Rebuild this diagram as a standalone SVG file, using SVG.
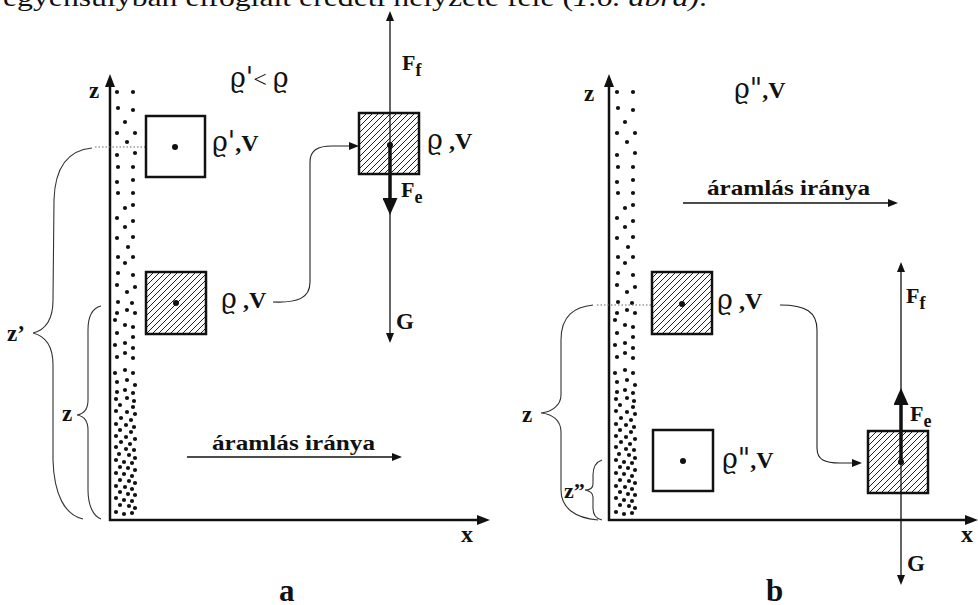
<svg xmlns="http://www.w3.org/2000/svg" width="978" height="605" viewBox="0 0 978 605">
<defs>
<style>
.ax{stroke:#111;stroke-width:2.5;fill:none}
.thin{stroke:#111;stroke-width:1.3;fill:none}
.thick{stroke:#111;stroke-width:3.5;fill:none}
.conn{stroke:#222;stroke-width:1.1;fill:none}
.brace{stroke:#333;stroke-width:1.1;fill:none}
.dotted{stroke:#666;stroke-width:1;stroke-dasharray:1.5 2;fill:none}
.box{stroke:#111;stroke-width:2.5;fill:#fff}
.hbox{stroke:#111;stroke-width:2.5;fill:url(#hatch)}
.cd{fill:#111}
.t{font-family:"Liberation Serif","DejaVu Serif",serif;fill:#111}
.b{font-weight:bold}
.rho{font-family:"DejaVu Serif",serif;font-size:27px;font-weight:normal}
</style>
<pattern id="hatch" patternUnits="userSpaceOnUse" width="6" height="6">
<rect width="6" height="6" fill="#fff"/>
<path d="M0,6 L6,0 M-1,1 L1,-1 M5,7 L7,5" stroke="#222" stroke-width="1"/>
</pattern>
<marker id="arr" markerUnits="userSpaceOnUse" markerWidth="10" markerHeight="8" refX="1" refY="4" orient="auto"><path d="M0,0 L10,4 L0,8 z" fill="#111"/></marker>
<marker id="axarr" markerUnits="userSpaceOnUse" markerWidth="13" markerHeight="10" refX="1" refY="5" orient="auto"><path d="M0,0 L13,5 L0,10 z" fill="#111"/></marker>
<marker id="bigarr" markerUnits="userSpaceOnUse" markerWidth="17" markerHeight="15" refX="1" refY="7.5" orient="auto"><path d="M0,0 L17,7.5 L0,15 z" fill="#111"/></marker>
<g id="dots" fill="#111">
<circle cx="117" cy="92" r="2.1"/><circle cx="133" cy="92" r="2.1"/><circle cx="118" cy="108" r="2.1"/><circle cx="133" cy="110" r="2.1"/><circle cx="125" cy="122" r="2.1"/><circle cx="117" cy="133" r="2.1"/><circle cx="135" cy="133" r="2.1"/><circle cx="127" cy="142" r="2.1"/><circle cx="117" cy="155" r="2.1"/><circle cx="135" cy="153" r="2.1"/><circle cx="118" cy="167" r="2.1"/><circle cx="133" cy="167" r="2.1"/><circle cx="117" cy="182" r="2.1"/><circle cx="133" cy="180" r="2.1"/><circle cx="118" cy="193" r="2.1"/><circle cx="133" cy="193" r="2.1"/>
<circle cx="125" cy="208" r="2.1"/><circle cx="133" cy="205" r="2.1"/><circle cx="117" cy="218" r="2.1"/><circle cx="133" cy="221" r="2.1"/><circle cx="125" cy="227" r="2.1"/><circle cx="117" cy="238" r="2.1"/><circle cx="133" cy="237" r="2.1"/><circle cx="128" cy="247" r="2.1"/><circle cx="118" cy="257" r="2.1"/><circle cx="133" cy="257" r="2.1"/><circle cx="125" cy="263" r="2.1"/><circle cx="118" cy="273" r="2.1"/><circle cx="133" cy="275" r="2.1"/><circle cx="117" cy="285" r="2.1"/><circle cx="135" cy="287" r="2.1"/><circle cx="127" cy="292" r="2.1"/><circle cx="118" cy="302" r="2.1"/><circle cx="132" cy="303" r="2.1"/><circle cx="127" cy="310" r="2.1"/><circle cx="117" cy="313" r="2.1"/><circle cx="135" cy="313" r="2.1"/><circle cx="115" cy="320" r="2.1"/><circle cx="125" cy="325" r="2.1"/><circle cx="133" cy="327" r="2.1"/><circle cx="117" cy="333" r="2.1"/><circle cx="133" cy="337" r="2.1"/><circle cx="125" cy="343" r="2.1"/><circle cx="115" cy="345" r="2.1"/><circle cx="133" cy="348" r="2.1"/><circle cx="125" cy="353" r="2.1"/><circle cx="117" cy="357" r="2.1"/><circle cx="133" cy="358" r="2.1"/><circle cx="125" cy="370" r="2.1"/><circle cx="115" cy="373" r="2.1"/><circle cx="133" cy="373" r="2.1"/><circle cx="127" cy="380" r="2.1"/><circle cx="117" cy="382" r="2.1"/><circle cx="135" cy="385" r="2.1"/><circle cx="125" cy="390" r="2.1"/><circle cx="117" cy="392" r="2.1"/><circle cx="133" cy="393" r="2.1"/>
<circle cx="116" cy="399" r="2.1"/><circle cx="127" cy="398" r="2.1"/><circle cx="134" cy="401" r="2.1"/>
<circle cx="120" cy="405" r="2.1"/><circle cx="133" cy="407" r="2.1"/>
<circle cx="116" cy="411" r="2.1"/><circle cx="127" cy="412" r="2.1"/><circle cx="135" cy="414" r="2.1"/>
<circle cx="121" cy="418" r="2.1"/><circle cx="131" cy="420" r="2.1"/>
<circle cx="116" cy="424" r="2.1"/><circle cx="126" cy="425" r="2.1"/><circle cx="134" cy="427" r="2.1"/>
<circle cx="120" cy="430" r="2.1"/><circle cx="131" cy="432" r="2.1"/>
<circle cx="116" cy="436" r="2.1"/><circle cx="126" cy="437" r="2.1"/><circle cx="135" cy="439" r="2.1"/>
<circle cx="121" cy="442" r="2.1"/><circle cx="130" cy="444" r="2.1"/>
<circle cx="116" cy="447" r="2.1"/><circle cx="126" cy="449" r="2.1"/><circle cx="134" cy="450" r="2.1"/>
<circle cx="119" cy="454" r="2.1"/><circle cx="129" cy="455" r="2.1"/><circle cx="135" cy="458" r="2.1"/>
<circle cx="116" cy="460" r="2.1"/><circle cx="124" cy="462" r="2.1"/><circle cx="132" cy="463" r="2.1"/>
<circle cx="120" cy="467" r="2.1"/><circle cx="128" cy="468" r="2.1"/><circle cx="135" cy="470" r="2.1"/>
<circle cx="116" cy="473" r="2.1"/><circle cx="124" cy="474" r="2.1"/><circle cx="132" cy="476" r="2.1"/>
<circle cx="120" cy="480" r="2.1"/><circle cx="129" cy="481" r="2.1"/><circle cx="135" cy="483" r="2.1"/>
<circle cx="116" cy="486" r="2.1"/><circle cx="125" cy="487" r="2.1"/><circle cx="132" cy="489" r="2.1"/>
<circle cx="120" cy="492" r="2.1"/><circle cx="128" cy="494" r="2.1"/><circle cx="135" cy="495" r="2.1"/>
<circle cx="116" cy="498" r="2.1"/><circle cx="124" cy="500" r="2.1"/><circle cx="132" cy="501" r="2.1"/>
<circle cx="120" cy="505" r="2.1"/><circle cx="129" cy="506" r="2.1"/><circle cx="135" cy="508" r="2.1"/>
<circle cx="116" cy="512" r="2.1"/><circle cx="124" cy="514" r="2.1"/><circle cx="132" cy="513" r="2.1"/>
</g>
</defs>
<rect width="978" height="605" fill="#fff"/>

<text class="t" x="3" y="5.5" font-size="26" textLength="704" lengthAdjust="spacingAndGlyphs">egyensúlyban elfoglalt eredeti helyzete felé (<tspan font-style="italic">1.6. ábra)</tspan>.</text>

<!-- panel a -->
<g id="panel-a-wall"><use href="#dots"/></g>
<g id="panel-a-axes">
<line class="ax" x1="110" y1="521" x2="110" y2="86" marker-end="url(#axarr)"/>
<line class="ax" x1="109" y1="520" x2="478" y2="520" marker-end="url(#axarr)"/>
<text class="t b" x="89" y="98" font-size="23">z</text>
<text class="t b" x="461" y="542" font-size="24">x</text>
</g>
<g id="panel-a-braces">
<line class="dotted" x1="95" y1="147" x2="146" y2="147"/>
<path class="brace" d="M92,148 C70,150 55,165 54,200 L53,300 C53,320 45,330 33,333 C45,336 53,345 53,365 L53,460 C54,495 65,515 83,519"/>
<path class="brace" d="M101,306 C93,308 88,315 88,330 L88,400 C88,410 83,414 77,415 C83,416 88,420 88,430 L88,490 C88,505 93,516 101,519"/>
<text class="t b" x="7" y="341" font-size="23">z’</text>
<text class="t b" x="62" y="421" font-size="23">z</text>
</g>
<g id="node-a1">
<rect class="box" x="146" y="116" width="59" height="61"/>
<circle class="cd" cx="175" cy="147" r="3"/>
<text class="t" x="212" y="151" font-size="24"><tspan class="rho">ϱ'</tspan><tspan class="b">,V</tspan></text>
</g>
<g id="node-a2">
<rect class="hbox" x="146" y="272" width="60" height="62"/>
<circle class="cd" cx="176" cy="303" r="3"/>
<text class="t" x="221" y="308" font-size="24"><tspan class="rho">ϱ</tspan> <tspan class="b">,V</tspan></text>
</g>
<g id="node-a3">
<rect class="hbox" x="359" y="113" width="60" height="61"/>
<text class="t" x="427" y="149" font-size="24"><tspan class="rho">ϱ</tspan> <tspan class="b">,V</tspan></text>
</g>
<g id="forces-a">
<line class="thin" x1="390" y1="145" x2="390" y2="20" marker-end="url(#arr)"/>
<line class="thin" x1="390" y1="145" x2="390" y2="334" marker-end="url(#arr)"/>
<line class="thick" x1="390" y1="145" x2="390" y2="199" marker-end="url(#bigarr)"/>
<circle class="cd" cx="390" cy="145" r="3"/>
<text class="t b" x="402" y="70" font-size="22">F<tspan font-size="18" dy="6">f</tspan></text>
<text class="t b" x="401" y="197" font-size="22">F<tspan font-size="18" dy="6">e</tspan></text>
<text class="t b" x="396" y="329" font-size="23">G</text>
</g>
<text class="t" x="230" y="87" font-size="24"><tspan class="rho">ϱ'</tspan>&lt; <tspan class="rho">ϱ</tspan></text>
<g id="flow-a">
<line class="thin" x1="187" y1="457" x2="393" y2="457" marker-end="url(#arr)"/>
<text class="t b" x="212" y="450" font-size="22" textLength="163" lengthAdjust="spacingAndGlyphs">áramlás iránya</text>
</g>
<text class="t b" x="279" y="601" font-size="31">a</text>

<!-- panel b -->
<g id="panel-b-wall"><use href="#dots" transform="translate(500,0)"/></g>
<g id="panel-b-axes">
<line class="ax" x1="609" y1="521" x2="609" y2="86" marker-end="url(#axarr)"/>
<line class="ax" x1="608" y1="520" x2="966" y2="520" marker-end="url(#axarr)"/>
<text class="t b" x="584" y="101" font-size="23">z</text>
<text class="t b" x="961" y="542" font-size="24">x</text>
</g>
<g id="panel-b-braces">
<line class="dotted" x1="597" y1="305" x2="652" y2="305"/>
<path class="brace" d="M593,305 C575,307 561,315 561,340 L561,395 C561,405 552,412 541,413 C552,414 561,420 561,432 L561,490 C561,508 575,518 598,520"/>
<path class="brace" d="M602,460 C596,462 593,466 593,475 L593,484 C593,488 590,490 585,490 C590,491 593,493 593,497 L593,508 C593,515 597,519 602,520"/>
<text class="t b" x="522" y="422" font-size="23">z</text>
<text class="t b" x="564" y="498" font-size="22">z”</text>
</g>
<text class="t" x="734" y="98" font-size="24"><tspan class="rho">ϱ"</tspan><tspan class="b">,V</tspan></text>
<g id="flow-b">
<line class="thin" x1="683" y1="203" x2="889" y2="203" marker-end="url(#arr)"/>
<text class="t b" x="707" y="195" font-size="22" textLength="163" lengthAdjust="spacingAndGlyphs">áramlás iránya</text>
</g>
<g id="node-b1">
<rect class="hbox" x="652" y="272" width="60" height="62"/>
<circle class="cd" cx="682" cy="304" r="3"/>
<text class="t" x="717" y="309" font-size="24"><tspan class="rho">ϱ</tspan> <tspan class="b">,V</tspan></text>
</g>
<g id="node-b2">
<rect class="box" x="653" y="430" width="60" height="61"/>
<circle class="cd" cx="683" cy="461" r="3"/>
<text class="t" x="722" y="468" font-size="24"><tspan class="rho">ϱ"</tspan><tspan class="b">,V</tspan></text>
</g>
<g id="node-b3">
<rect class="hbox" x="868" y="431" width="60" height="62"/>
</g>
<g id="forces-b">
<line class="thin" x1="901" y1="462" x2="901" y2="271" marker-end="url(#arr)"/>
<line class="thin" x1="901" y1="462" x2="901" y2="576" marker-end="url(#arr)"/>
<line class="thick" x1="901" y1="462" x2="901" y2="404" marker-end="url(#bigarr)"/>
<circle class="cd" cx="901" cy="462" r="3"/>
<text class="t b" x="906" y="303" font-size="22">F<tspan font-size="18" dy="6">f</tspan></text>
<text class="t b" x="910" y="421" font-size="22">F<tspan font-size="18" dy="6">e</tspan></text>
<text class="t b" x="907" y="571" font-size="23">G</text>
</g>
<text class="t b" x="766" y="601" font-size="31">b</text>

<g id="connectors">
<path class="conn" d="M273,302 C298,303 310,298 310,282 L310,162 C310,150 318,146 332,146 L350,146" marker-end="url(#arr)"/>
<path class="conn" d="M780,305 C806,305 817,312 817,330 L817,448 C817,460 825,463 840,463 L853,463" marker-end="url(#arr)"/>
</g>
</svg>
